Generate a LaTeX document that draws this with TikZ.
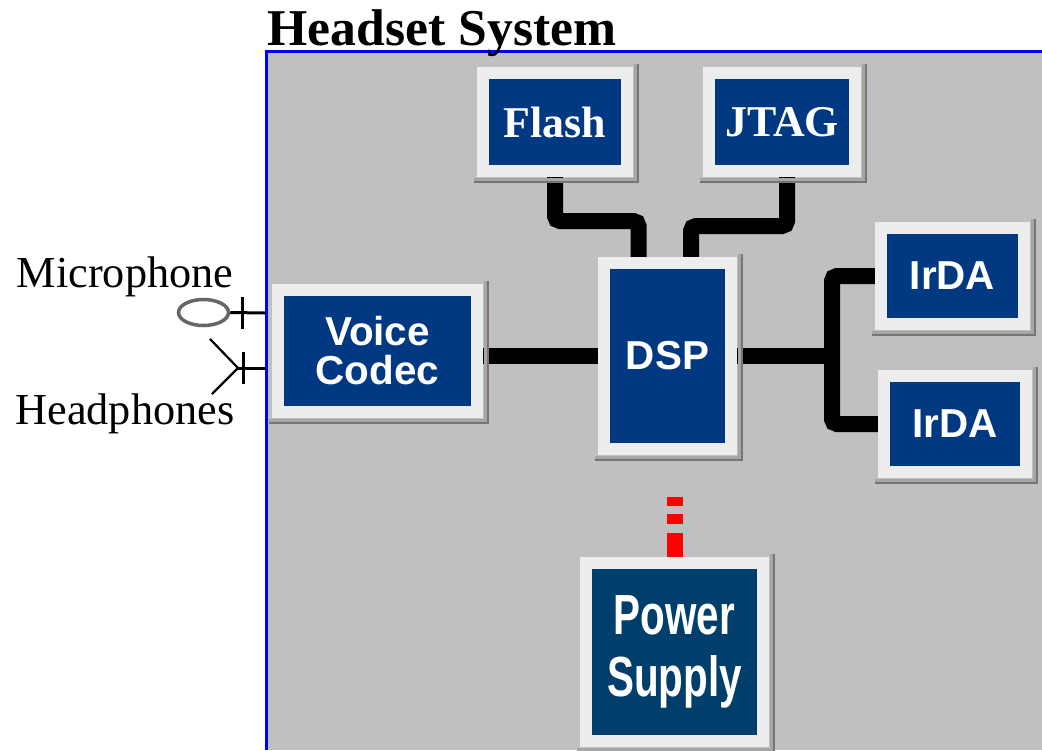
\documentclass[tikz,border=0pt]{standalone}
\usepackage{fontspec}
\setmainfont{Liberation Serif}
\setsansfont{Liberation Sans}
\usetikzlibrary{positioning,shapes.geometric,backgrounds,calc}
\definecolor{panelgray}{HTML}{C0C0C0}
\definecolor{frameblue}{HTML}{0000FF}
\definecolor{chipblue}{HTML}{003882}
\definecolor{powerblue}{HTML}{003F6B}
\definecolor{bevellight}{HTML}{EDEDED}
\definecolor{bevelmid}{HTML}{A6A6A6}
\definecolor{beveldark}{HTML}{767676}
\definecolor{dashred}{HTML}{FF0000}

\begin{document}
\begin{tikzpicture}[
    block/.style={
        rectangle,
        draw=bevellight,
        line width=0.12cm,
        fill=chipblue,
        text=white,
        align=center,
        inner sep=0pt,
        font=\sffamily\bfseries\fontsize{11.5}{11.1}\selectfont
    },
    serifblock/.style={
        block,
        font=\rmfamily\bfseries\fontsize{12.5}{14}\selectfont
    },
    powerblock/.style={
        block,
        fill=powerblue,
        font=\sffamily\bfseries\fontsize{11.5}{17.6}\selectfont
    },
    link/.style={draw, line width=0.16cm, rounded corners=0.05cm},
    wire/.style={draw, line width=0.03cm},
    sidetext/.style={font=\fontsize{12.6}{14}\selectfont, anchor=base, inner sep=0pt}
]

\useasboundingbox (0,0) rectangle (10.42,-7.5);

% Panel
\begin{pgfonlayer}{background}
\fill[panelgray] (2.66,-0.515) rectangle (10.42,-7.5);
\end{pgfonlayer}
\draw[frameblue, line width=0.03cm] (2.66,-7.5) |- (10.42,-0.515);
\node[anchor=base west, inner sep=0pt, font=\bfseries\fontsize{14.7}{16}\selectfont] (title) at (2.67,-0.45) {Headset System};

% Blocks
\node[serifblock, minimum width=1.44cm, minimum height=0.98cm] (flash) at (5.55,-1.22) {Flash};
\node[serifblock, minimum width=1.46cm, minimum height=0.98cm] (jtag) at (7.82,-1.22) {JTAG};
\node[block, minimum width=1.27cm, minimum height=1.86cm] (dsp) at (6.675,-3.56) {DSP};
\node[block, minimum width=1.99cm, minimum height=1.22cm] (voice) at (3.775,-3.51) {Voice\\Codec};
\node[block, minimum width=1.43cm, minimum height=0.96cm] (irda1) at (9.525,-2.76) {IrDA};
\node[block, minimum width=1.42cm, minimum height=0.96cm] (irda2) at (9.55,-4.24) {IrDA};
\node[powerblock, minimum width=1.77cm, minimum height=1.78cm] (power) at (6.745,-6.52) {\scalebox{1}[1.4]{Power}\\\scalebox{1}[1.4]{Supply}};

% Bevel shading
\foreach \blk in {flash,jtag,dsp,voice,irda1,irda2,power}{
    \draw[bevelmid, line width=0.05cm] ([shift={(-0.03,-0.035)}]\blk.south west) -- ([shift={(0.035,-0.035)}]\blk.south east) -- ([shift={(0.035,0.03)}]\blk.north east);
    \draw[beveldark, line width=0.02cm] ([shift={(-0.03,-0.05)}]\blk.south west) -- ([shift={(0.05,-0.05)}]\blk.south east) -- ([shift={(0.05,0.03)}]\blk.north east);
}

% Buses
\begin{scope}[on background layer]
\draw[link] (flash.south) -- ++(0,-0.44) -| ([xshift=-0.29cm]dsp.north);
\draw[link] ([xshift=0.05cm]jtag.south) -- ++(0,-0.49) -| ([xshift=0.235cm]dsp.north);
\draw[link] (dsp.west) -- (dsp.west -| voice.east);
\draw[link] (dsp.east) -- ++(0.95,0) coordinate (fork);
\draw[link] (irda1.west) -| (fork) |- (irda2.west);

% Power feed
\coordinate (dashtop) at (6.75,-4.97);
\draw[dashred, line width=0.16cm, dash pattern=on 0.24cm off 0.09cm on 0.1cm off 0.08cm on 0.12cm off 0.01cm on 0.02cm] (power.north) -- (power.north |- dashtop);
\end{scope}

% Microphone and headphones
\node[ellipse, draw=black!60, line width=0.035cm, minimum width=0.5cm, minimum height=0.26cm, inner sep=0pt] (mic) at (2.035,-3.125) {};
\coordinate (micport) at (2.655,-3.13);
\coordinate (mictick) at (2.42,-3.13);
\draw[wire] (mic.east) -- (micport);
\draw[wire] ([yshift=0.16cm]mictick) -- ([yshift=-0.16cm]mictick);

\coordinate (hp) at (2.38,-3.68);
\coordinate (hpport) at (2.655,-3.68);
\coordinate (hptick) at (2.43,-3.68);
\draw[wire] (hp) -- (hpport);
\draw[wire, line width=0.022cm] (hp) ++(-0.28,0.29) -- (hp) -- ++(-0.26,-0.26);
\draw[wire] ([yshift=0.16cm]hptick) -- ([yshift=-0.16cm]hptick);

\node[sidetext] (miclabel) at (1.25,-2.87) {Microphone};
\node[sidetext] (hplabel) at (1.25,-4.24) {Headphones};

\end{tikzpicture}
\end{document}
